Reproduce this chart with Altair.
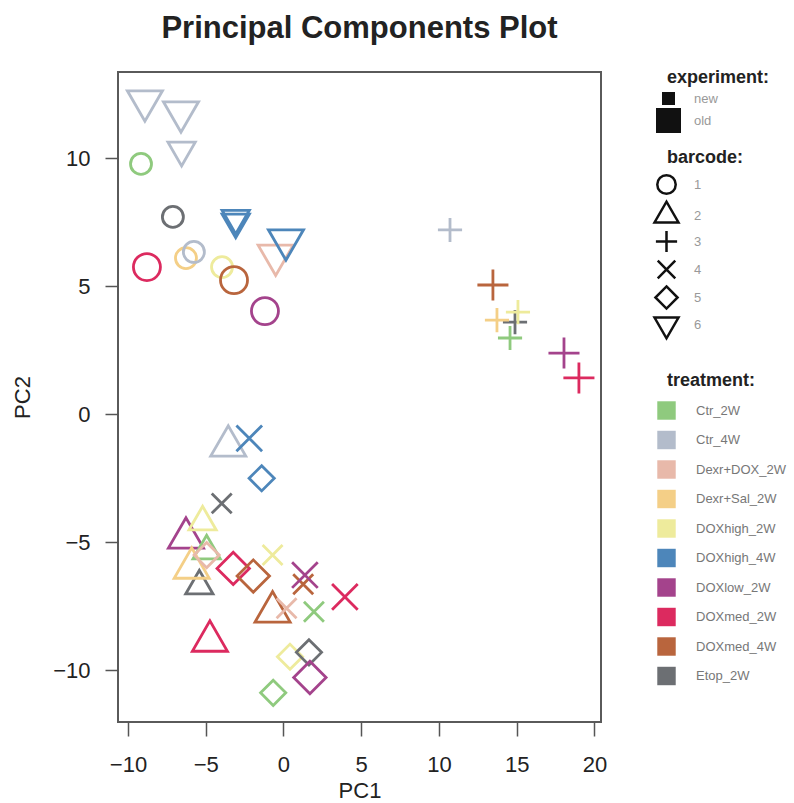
import altair as alt
import pandas as pd

# ---- categories ----
treatments = ["Ctr_2W", "Ctr_4W", "Dexr+DOX_2W", "Dexr+Sal_2W", "DOXhigh_2W",
              "DOXhigh_4W", "DOXlow_2W", "DOXmed_2W", "DOXmed_4W", "Etop_2W"]
treatment_colors = ["#8fca7e", "#b3bccb", "#e8b9aa", "#f4cf87", "#eeeb9c",
                    "#4d86ba", "#a4438c", "#dc2a5f", "#b9653d", "#6c6f73"]
barcodes = ["1", "2", "3", "4", "5", "6"]
experiments = ["new", "old"]
x_ticks = [-10, -5, 0, 5, 10, 15, 20]
y_ticks = [-10, -5, 0, 5, 10]

# ---- samples ----
pc1 = [-9.16, -7.11, -8.78, -6.27, -5.76, -3.95, -3.18, -1.19,
       -8.91, -6.59, -6.55, -3.07, -3.07, -0.50, 0.16,
       10.71, 13.47, 14.89, 13.73, 15.08, 14.57, 18.04, 19.00,
       -3.55, -6.27, -5.20, -4.94, -5.41, -5.90, -0.70, -4.73,
       -2.20, -3.97, -0.70, 1.27, 1.38, 0.20, 1.96, 3.95,
       -1.40, -4.94, -3.23, -1.94, 0.42, 1.64, 1.70, -0.66]
pc2 = [9.77, 7.70, 5.74, 6.09, 6.33, 5.74, 5.23, 4.02,
       12.23, 11.80, 10.31, 7.65, 7.50, 6.20, 6.80,
       7.19, 5.04, 3.59, 3.67, 3.98, 2.97, 2.38, 1.41,
       -1.25, -4.84, -4.22, -5.35, -6.72, -6.02, -7.73, -8.87,
       -0.95, -3.49, -5.51, -6.65, -6.29, -7.59, -7.72, -7.14,
       -2.51, -5.51, -6.03, -6.33, -9.48, -9.31, -10.29, -10.89]
treatment = ["Ctr_2W", "Etop_2W", "DOXmed_2W", "Dexr+Sal_2W", "Ctr_4W", "DOXhigh_2W", "DOXmed_4W", "DOXlow_2W",
             "Ctr_4W", "Ctr_4W", "Ctr_4W", "DOXhigh_4W", "DOXhigh_4W", "Dexr+DOX_2W", "DOXhigh_4W",
             "Ctr_4W", "DOXmed_4W", "Etop_2W", "Dexr+Sal_2W", "DOXhigh_2W", "Ctr_2W", "DOXlow_2W", "DOXmed_2W",
             "Ctr_4W", "DOXlow_2W", "DOXhigh_2W", "Ctr_2W", "Etop_2W", "Dexr+Sal_2W", "DOXmed_4W", "DOXmed_2W",
             "DOXhigh_4W", "Etop_2W", "DOXhigh_2W", "DOXmed_4W", "DOXlow_2W", "Dexr+DOX_2W", "Ctr_2W", "DOXmed_2W",
             "DOXhigh_4W", "Dexr+DOX_2W", "DOXmed_2W", "DOXmed_4W", "DOXhigh_2W", "Etop_2W", "DOXlow_2W", "Ctr_2W"]
barcode = (["1"] * 8 + ["6"] * 7 + ["3"] * 8 + ["2"] * 8 + ["4"] * 8 + ["5"] * 8)
experiment = ["new", "new", "old", "new", "new", "new", "old", "old",
              "old", "old", "new", "new", "new", "old", "old",
              "new", "old", "new", "new", "new", "new", "old", "old",
              "old", "old", "new", "new", "new", "old", "old", "old",
              "old", "new", "new", "new", "old", "new", "new", "old",
              "new", "new", "old", "old", "new", "new", "old", "new"]

df = pd.DataFrame({"PC1": pc1, "PC2": pc2, "treatment": treatment,
                   "barcode": barcode, "experiment": experiment})

# open symbol outlines (R-style pch 1,2,3,4,5,6)
shape_paths = [
    "M1,0A1,1,0,1,1,-1,0A1,1,0,1,1,1,0Z",
    "M-1.3,0.75L1.3,0.75L0,-1.5Z",
    "M-1.15,0L1.15,0M0,-1.15L0,1.15",
    "M-0.95,-0.95L0.95,0.95M0.95,-0.95L-0.95,0.95",
    "M0,-1.2L1.2,0L0,1.2L-1.2,0Z",
    "M-1.3,-0.75L1.3,-0.75L0,1.5Z",
]

FONT = "Liberation Sans"

xenc = alt.X("PC1:Q", scale=alt.Scale(domain=[-10.64, 20.42], nice=False, zero=False),
             axis=alt.Axis(values=x_ticks, title="PC1", domain=False, grid=False,
                           tickSize=14, tickWidth=1.5, tickColor="#555",
                           labelFontSize=22, labelFont=FONT, labelColor="#222", labelPadding=18,
                           titleFontSize=22, titleFont=FONT, titleFontWeight="normal",
                           titleColor="#222", titlePadding=5))
yenc = alt.Y("PC2:Q", scale=alt.Scale(domain=[-12.03, 13.36], nice=False, zero=False),
             axis=alt.Axis(values=y_ticks, title="PC2", domain=False, grid=False,
                           tickSize=13, tickWidth=1.5, tickColor="#555", labelAngle=0,
                           labelFontSize=22, labelFont=FONT, labelColor="#222", labelPadding=15,
                           titleFontSize=22, titleFont=FONT, titleFontWeight="normal",
                           titleColor="#222", titlePadding=18))

legend_common = dict(orient="none", titleFont=FONT, titleFontSize=18, titleFontWeight="bold",
                     titleColor="#222", labelFont=FONT, labelFontSize=13)

points = alt.Chart(df).mark_point(filled=False, strokeWidth=2.8, opacity=1).encode(
    x=xenc, y=yenc,
    color=alt.Color("treatment:N", scale=alt.Scale(domain=treatments, range=treatment_colors), legend=None),
    shape=alt.Shape("barcode:N", scale=alt.Scale(domain=barcodes, range=shape_paths),
                    legend=alt.Legend(title="barcode:", legendX=549, legendY=77,
                                      symbolSize=340, symbolStrokeWidth=2.5,
                                      symbolStrokeColor="#111", symbolOffset=-11,
                                      labelOffset=17, rowPadding=-3, titlePadding=7,
                                      labelColor="#999", **legend_common)),
    size=alt.Size("experiment:N", scale=alt.Scale(domain=experiments, range=[441, 729]), legend=None),
)

color_legend = alt.Chart(df).mark_square(filled=True, opacity=0).encode(
    x="PC1:Q", y="PC2:Q",
    color=alt.Color("treatment:N", scale=alt.Scale(domain=treatments, range=treatment_colors),
                    legend=alt.Legend(title="treatment:", legendX=549, legendY=300,
                                      symbolType="square", symbolSize=340, symbolStrokeWidth=0,
                                      symbolOpacity=1, symbolOffset=-10, labelOffset=20,
                                      rowPadding=10.5, titlePadding=11,
                                      labelColor="#777", **legend_common)),
)

size_legend = alt.Chart(df).mark_square(filled=True, opacity=0, color="#111").encode(
    x="PC1:Q", y="PC2:Q",
    size=alt.Size("experiment:N", scale=alt.Scale(domain=experiments, range=[169, 625]),
                  legend=alt.Legend(title="experiment:", legendX=549, legendY=-3,
                                    symbolType="square", symbolFillColor="#111",
                                    symbolStrokeWidth=0, symbolOpacity=1, symbolOffset=-11,
                                    labelOffset=13, rowPadding=2, titlePadding=5,
                                    labelColor="#999", **legend_common)),
)

chart = alt.layer(color_legend, size_legend, points).resolve_scale(
    color="independent", size="independent", shape="independent"
).properties(
    width=483, height=650,
    title=alt.TitleParams("Principal Components Plot", fontSize=31, font=FONT, fontWeight="bold",
                          color="#222", anchor="middle", frame="group", offset=0,
                          baseline="alphabetic"),
    autosize=alt.AutoSizeParams(type="none"),
    padding={"left": 118, "top": 72, "right": 193, "bottom": 81},
).configure_view(stroke="#5a5a5a", strokeWidth=2)

chart.save("out.html", embed_options={"renderer": "svg", "actions": False})
